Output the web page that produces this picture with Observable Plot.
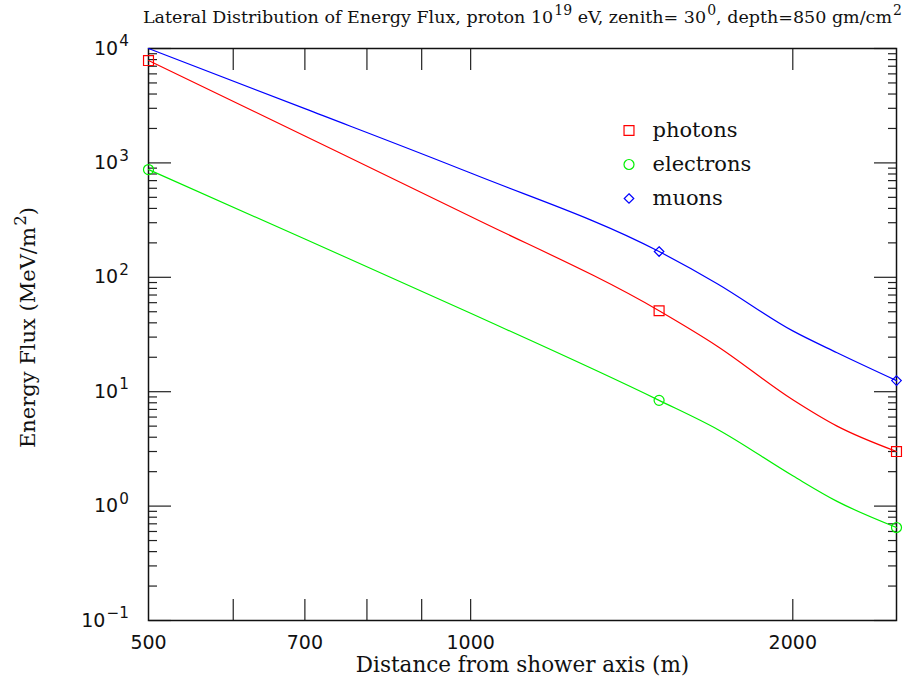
<!DOCTYPE html>
<html><head><meta charset="utf-8">
<script src="https://cdn.jsdelivr.net/npm/d3@7"></script>
<script src="https://cdn.jsdelivr.net/npm/@observablehq/plot@0.6"></script>
<style>body{margin:0;background:#fff}</style>
</head><body><div id="chart"></div>
<script>
const title = "Lateral Distribution of Energy Flux, proton 10^{19} eV, zenith= 30^{0}, depth=850 gm/cm^{2}";
const xLabel = "Distance from shower axis (m)";
const yLabel = "Energy Flux (MeV/m^{2})";

const seriesNames = ["photons", "electrons", "muons"];
const seriesColors = ["#ff0000", "#00f000", "#0000ff"];
const seriesSymbols = ["square", "circle", "diamond2"];
const symbolRadius = [5.6, 5, 4.3];

const distance  = [500, 700, 1000, 1500, 1700, 2000, 2200, 2500];
const photons   = [7850, 1720, 340, 51, 25, 8.5, 5.0, 3.0];
const electrons = [875, 216, 48.5, 8.4, 4.7, 1.84, 1.1, 0.65];
const muons     = [10000, 2980, 815, 168, 88, 34, 21.9, 12.5];
const markerDistance = [500, 1500, 2500];

const xTickValues = [600, 700, 800, 900, 1000, 2000];
const xTickLabels = [500, 700, 1000, 2000];
const yDecades = [0.1, 1, 10, 100, 1000, 10000];
const yMinor = [];
for (let k = 0; k < yDecades.length - 1; k++) for (let m = 2; m <= 9; m++) yMinor.push(+(yDecades[k] * m).toPrecision(3));

const seriesValues = [photons, electrons, muons];
const rows = seriesValues.map(vals => distance.map((x, i) => ({x, y: vals[i]})));

const serif = "DejaVu Serif";
const tickStyle = {stroke: "#222", strokeWidth: 1.2, fill: "none"};
const marks = [];

// inward ticks on all four sides
marks.push(Plot.axisY(yDecades, {anchor: "right", frameAnchor: "left", tickSize: 22, ...tickStyle}));
marks.push(Plot.axisY(yMinor, {anchor: "right", frameAnchor: "left", tickSize: 8, ...tickStyle}));
marks.push(Plot.axisY(yDecades, {anchor: "left", frameAnchor: "right", tickSize: 22, ...tickStyle}));
marks.push(Plot.axisY(yMinor, {anchor: "left", frameAnchor: "right", tickSize: 8, ...tickStyle}));
marks.push(Plot.axisX(xTickValues, {anchor: "top", frameAnchor: "bottom", tickSize: 22, ...tickStyle}));
marks.push(Plot.axisX(xTickValues, {anchor: "bottom", frameAnchor: "top", tickSize: 22, ...tickStyle}));

// tick labels
marks.push(Plot.axisY(yDecades, {
  anchor: "left", tickSize: 0, tickPadding: 19.5, fontSize: 19, label: null, fill: "#111",
  tickFormat: d => { const k = Math.round(Math.log10(d)); return "10^{" + (k < 0 ? "\u2212" + (-k) : k) + "}"; }
}));
marks.push(Plot.axisX(xTickLabels, {
  anchor: "bottom", tickSize: 0, tickPadding: 15, fontSize: 19, label: null, fill: "#111",
  tickFormat: d => String(d)
}));

marks.push(Plot.frame({stroke: "#111", strokeWidth: 1.5}));

// curves
rows.forEach((r, i) => {
  marks.push(Plot.line(r, {x: "x", y: "y", stroke: seriesColors[i], strokeWidth: 1.2, curve: "monotone-x"}));
  marks.push(Plot.dot(r.filter(d => markerDistance.includes(d.x) && d.y < 10000), {
    x: "x", y: "y", symbol: seriesSymbols[i], stroke: seriesColors[i], fill: "none", r: symbolRadius[i], strokeWidth: 1.2
  }));
});

// legend
seriesNames.forEach((name, i) => {
  marks.push(Plot.dot([name], {x: null, y: null, frameAnchor: "top-left", dx: 480.5, dy: 82 + 34 * i,
    symbol: seriesSymbols[i], stroke: seriesColors[i], fill: "none", r: symbolRadius[i], strokeWidth: 1.2}));
  marks.push(Plot.text([name], {x: null, y: null, frameAnchor: "top-left", dx: 504, dy: 82 + 34 * i,
    text: d => d, textAnchor: "start", lineAnchor: "middle", fontSize: 21, fontFamily: serif, fill: "#111"}));
});

// titles
marks.push(Plot.text([title], {x: null, y: null, frameAnchor: "top", dy: -31, text: d => d,
  textAnchor: "middle", lineAnchor: "middle", fontSize: 17.5, fontFamily: serif, fill: "#111"}));
marks.push(Plot.text([xLabel], {x: null, y: null, frameAnchor: "bottom", dy: 45, text: d => d,
  textAnchor: "middle", lineAnchor: "middle", fontSize: 21.5, fontFamily: serif, fill: "#111"}));
marks.push(Plot.text([yLabel], {x: null, y: null, frameAnchor: "left", dx: -120, dy: -7, rotate: -90, text: d => d,
  textAnchor: "middle", lineAnchor: "middle", fontSize: 21, fontFamily: serif, fill: "#111"}));

const svg = Plot.plot({
  width: 903, height: 683,
  marginLeft: 148, marginRight: 7, marginTop: 48, marginBottom: 63,
  style: {fontFamily: "DejaVu Sans", fontSize: "18px", background: "#fff", color: "#111", overflow: "visible"},
  x: {type: "log", domain: [500, 2500]},
  y: {type: "log", domain: [0.1, 10000]},
  marks
});

// render ^{...} as superscripts
function supify(root) {
  root.querySelectorAll("text").forEach(t => {
    const s = t.textContent;
    if (!s.includes("^{")) return;
    const parts = s.split(/(\^\{[^}]*\})/).filter(p => p);
    while (t.firstChild) t.removeChild(t.firstChild);
    let raised = false;
    const ns = "http://www.w3.org/2000/svg";
    for (const p of parts) {
      const ts = document.createElementNS(ns, "tspan");
      if (p.startsWith("^{")) {
        ts.textContent = p.slice(2, -1);
        ts.setAttribute("font-size", "0.8em");
        ts.setAttribute("dy", "-0.55em");
        ts.setAttribute("dx", "0.08em");
        raised = true;
      } else {
        ts.textContent = p;
        if (raised) { ts.setAttribute("dy", "0.44em"); raised = false; }
      }
      t.appendChild(ts);
    }
  });
}
supify(svg);
document.getElementById("chart").appendChild(svg);
</script>
</body></html>
